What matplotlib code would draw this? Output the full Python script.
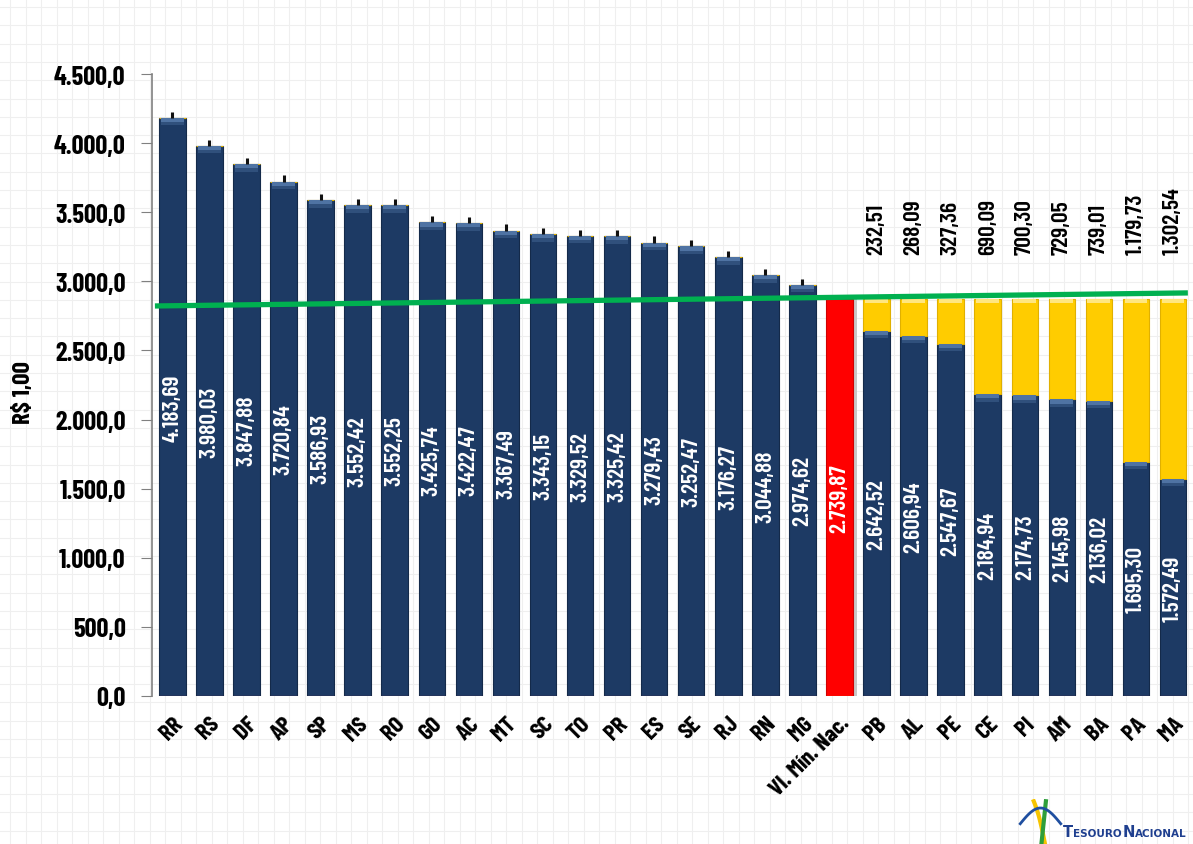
import numpy as np
import matplotlib
matplotlib.use('Agg')
import matplotlib.pyplot as plt
from matplotlib.lines import Line2D

# fonte estreita parecida com a original
plt.rcParams['font.family'] = ['Barlow Condensed', 'DejaVu Sans']
plt.rcParams['font.weight'] = 'bold'

# dados
estados = ['RR', 'RS', 'DF', 'AP', 'SP', 'MS', 'RO', 'GO', 'AC', 'MT', 'SC', 'TO',
           'PR', 'ES', 'SE', 'RJ', 'RN', 'MG', 'Vl. Mín. Nac.', 'PB', 'AL', 'PE',
           'CE', 'PI', 'AM', 'BA', 'PA', 'MA']
valores = [4183.69, 3980.03, 3847.88, 3720.84, 3586.93, 3552.42, 3552.25, 3425.74,
           3422.47, 3367.49, 3343.15, 3329.52, 3325.42, 3279.43, 3252.47, 3176.27,
           3044.88, 2974.62, 2739.87, 2642.52, 2606.94, 2547.67, 2184.94, 2174.73,
           2145.98, 2136.02, 1695.30, 1572.49]
# complemento ate o piso (amarelo)
complemento = [0.0] * 19 + [232.51, 268.09, 327.36, 690.09, 700.30, 729.05,
                            739.01, 1179.73, 1302.54]
idx_min = 18  # barra do valor minimo nacional
piso = valores[19] + complemento[19]  # 2.875,03
# linha verde (desenhada a mao no original)
linha_x = [-0.4, 27.33]
linha_y = [2822, 2916]


def fmt_br(v, casas=2):
    s = f'{v:,.{casas}f}'
    return s.replace(',', 'X').replace('.', ',').replace('X', '.')


azul = '#1d3a64'
azul_claro = '#4f73a3'
amarelo = '#ffcc00'
amarelo_claro = '#ffe680'
vermelho = '#ff0000'

W, H = 1193, 845
fig = plt.figure(figsize=(W / 100, H / 100), dpi=100)

# fundo quadriculado (planilha)
bg = fig.add_axes([0, 0, 1, 1], zorder=-10)
bg.set_xlim(0, W)
bg.set_ylim(H, 0)
bg.axis('off')
for gx in np.arange(10, W, 15.5):
    bg.axvline(gx, color='#efefef', lw=0.8)
for gy in np.arange(8, H, 18.3):
    bg.axhline(gy, color='#efefef', lw=0.8)

ax = fig.add_axes([152 / W, 1 - 697 / H, (W - 152) / W, (697 - 75) / H])
ax.patch.set_alpha(0)

x = np.arange(len(estados))
larg = 0.715
alturas_azul = np.array(valores, dtype=float)
alturas_azul[idx_min] = 0
alturas_red = np.zeros(len(valores))
alturas_red[idx_min] = piso

# sombra da barra vermelha
ax.bar(x[idx_min] + 0.12, piso, width=larg, color='#c8c8c8', zorder=1)
ax.bar(x, alturas_azul, width=larg, color=azul, edgecolor='#142a4a', lw=0.8, zorder=2)
ax.bar(x, alturas_red, width=larg, color=vermelho, edgecolor='#d00000', lw=0.8, zorder=2)
ax.bar(x, complemento, bottom=alturas_azul, width=larg, color=amarelo,
       edgecolor='#e0b000', lw=0.8, zorder=2)

# brilho no topo das barras
for i in x:
    if i == idx_min:
        continue
    top_az = alturas_azul[i]
    ax.bar(i, 30, bottom=top_az - 30, width=larg * 0.86, color=azul_claro, zorder=3, lw=0)
    ax.bar(i, 25, bottom=top_az - 55, width=larg * 0.86, color='#30507c', zorder=3, lw=0)
    if complemento[i] > 0:
        ax.bar(i, 30, bottom=piso - 30, width=larg * 0.86, color=amarelo_claro, zorder=3, lw=0)

# pequenas barras de erro acima das barras azuis
sem_comp = [i for i in x if complemento[i] == 0 and i != idx_min]
ax.errorbar(x[sem_comp], np.array(valores)[sem_comp],
            yerr=[np.zeros(len(sem_comp)), np.full(len(sem_comp), 45)],
            fmt='none', ecolor='#111111', elinewidth=2.2, capsize=0, zorder=4)

# linha verde
ax.add_line(Line2D(linha_x, linha_y, color='#00b050', lw=3.8, zorder=5))

# rotulos dentro das barras
for i, v in enumerate(valores):
    meio = piso / 2 if i == idx_min else v / 2
    ax.text(i, meio, fmt_br(v), rotation=90, ha='center', va='center',
            color='white', fontsize=17, fontweight='semibold', zorder=6)
    if complemento[i] > 0:
        ax.text(i, 3200, fmt_br(complemento[i]), rotation=90, ha='center',
                va='bottom', color='black', fontsize=17, fontweight='semibold', zorder=6)

ax.set_ylim(0, 4500)
ax.set_xlim(-0.55, 27.54)
ax.set_yticks(np.arange(0, 4501, 500))
ax.set_yticklabels([fmt_br(t, 1) for t in np.arange(0, 4501, 500)], fontsize=19)
ax.set_xticks(x)
ax.set_xticklabels(estados, rotation=45, ha='right', rotation_mode='anchor', fontsize=17)
ax.tick_params(axis='y', length=8, color='#808080', pad=11)
ax.tick_params(axis='x', length=0, pad=12)
for s in ['top', 'right', 'bottom']:
    ax.spines[s].set_visible(False)
ax.spines['left'].set_color('#808080')
ax.spines['left'].set_linewidth(1.2)
ax.set_ylabel('R$ 1,00', fontsize=18, fontweight='bold')
ax.yaxis.set_label_coords((35 - 152) / (W - 152), 0.49)

# logo Tesouro Nacional
lg = fig.add_axes([1018 / W, 1 - 845 / H, 45 / W, 45 / H])
lg.set_xlim(0, 1)
lg.set_ylim(0, 1)
lg.axis('off')
t = np.linspace(0, 1, 30)
lg.plot(0.35 + 0.25 * t, 0.95 - 0.95 * t + 0.1 * np.sin(np.pi * t), color='#f5c400', lw=3)
lg.plot(0.62 - 0.1 * t, 0.95 - 0.95 * t, color='#2e9e3a', lw=3)
lg.plot(0.05 + 0.9 * t, 0.45 + 0.35 * np.sin(np.pi * t), color='#1f4fa0', lw=2)

fig.canvas.draw()
r = fig.canvas.get_renderer()
pos_x = 1063
for parte, tam in [('T', 10.5), ('ESOURO', 7.5), ('N', 10.5), ('ACIONAL', 7.5)]:
    tx = fig.text(pos_x / W, 1 - 837 / H, parte, color='#1f3f8f', fontsize=tam,
                  fontweight='bold', family='DejaVu Sans', va='baseline')
    pos_x = tx.get_window_extent(r).x1 + 0.3

fig.savefig('out.png', dpi=100)
